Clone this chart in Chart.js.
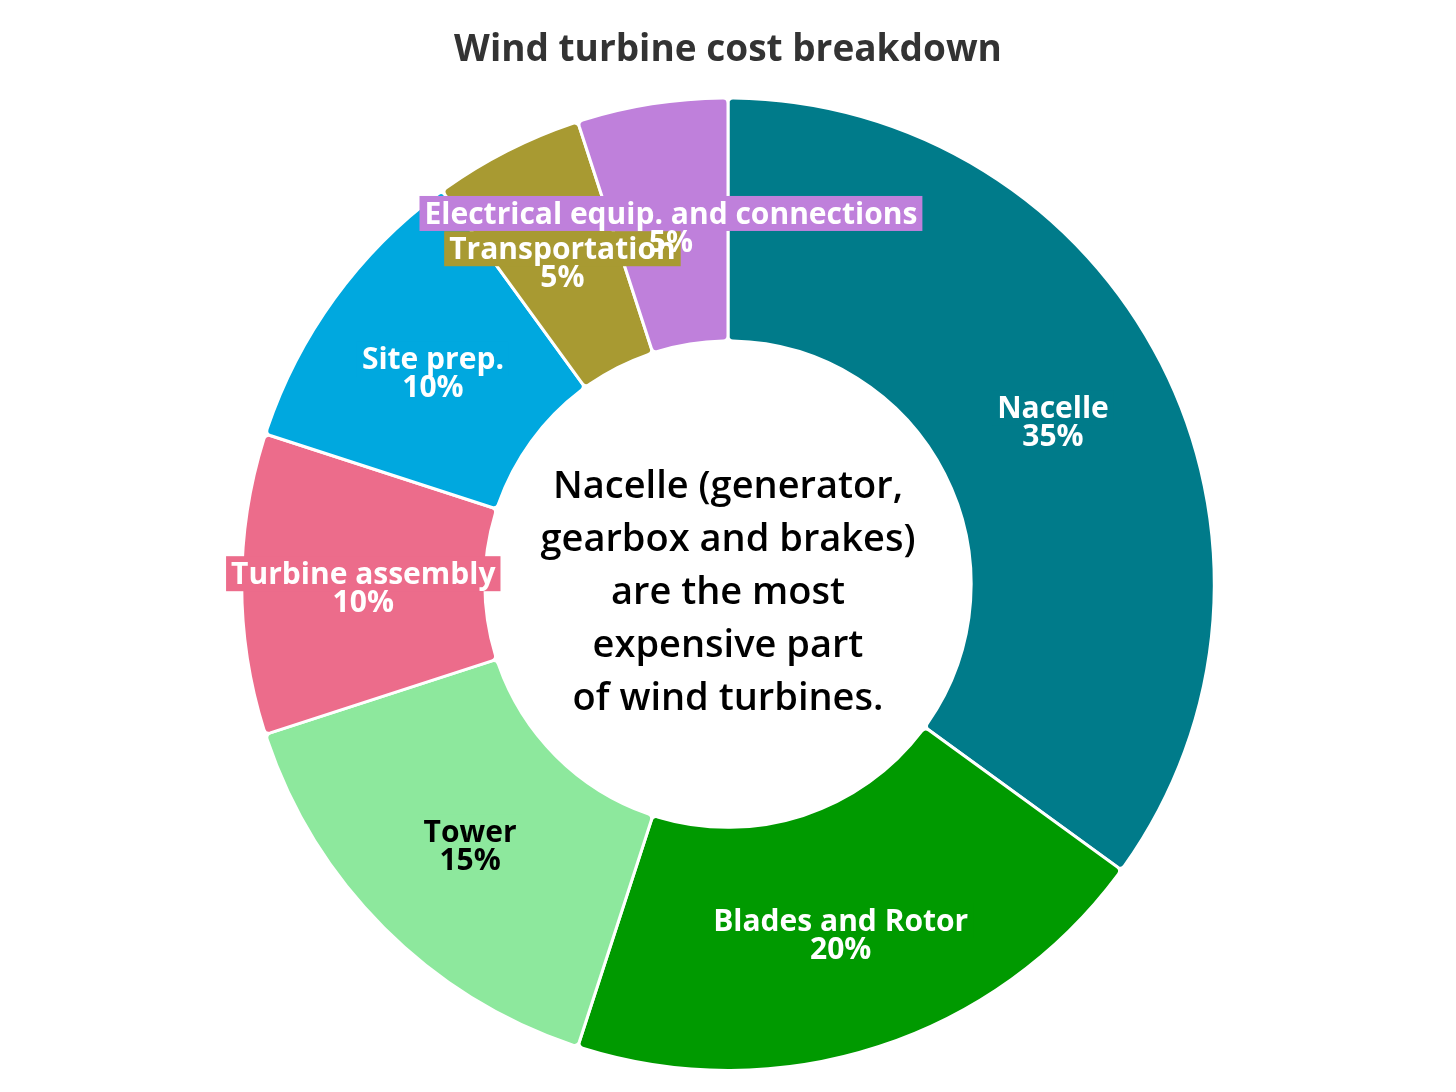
<!DOCTYPE html>
<html>
<head>
<meta charset="utf-8">
<script src="https://cdn.jsdelivr.net/npm/chart.js@4"></script>
<style>
  html, body { margin: 0; padding: 0; background: #fff; }
  #wrap { width: 1456px; height: 1092px; position: relative; }
</style>
</head>
<body>
<div id="wrap"><canvas id="costChart"></canvas></div>
<script>
const categories = ['Nacelle', 'Blades and Rotor', 'Tower', 'Turbine assembly', 'Site prep.', 'Transportation', 'Electrical equip. and connections'];
const shares = [35, 20, 15, 10, 10, 5, 5];
const colors = ['#007b8a', '#009a00', '#8de89d', '#ec6c8b', '#00a8df', '#a89a32', '#bf80db'];
const labelColors = ['#fff', '#fff', '#000', '#fff', '#fff', '#fff', '#fff'];
const centerLines = ['Nacelle (generator,', 'gearbox and brakes)', 'are the most', 'expensive part', 'of wind turbines.'];

const labelFont = 'bold 30px "Open Sans", sans-serif';

// labels drawn at the middle of each ring segment
const sliceLabels = {
  id: 'sliceLabels',
  afterDatasetsDraw(chart) {
    const ctx = chart.ctx;
    const arcs = chart.getDatasetMeta(0).data;
    const spots = arcs.map((arc, i) => {
      const p = arc.getProps(['x', 'y', 'startAngle', 'endAngle', 'innerRadius', 'outerRadius'], true);
      const a = (p.startAngle + p.endAngle) / 2;
      const r = (p.innerRadius + p.outerRadius) / 2;
      return { x: p.x + Math.cos(a) * r, y: p.y + Math.sin(a) * r + 5, i };
    });
    ctx.save();
    ctx.font = labelFont;
    ctx.textAlign = 'center';
    ctx.textBaseline = 'middle';
    const lh = 28;
    // boxes behind the names, last ones first
    for (let k = spots.length - 1; k >= 0; k--) {
      const s = spots[k];
      const w = ctx.measureText(categories[s.i]).width;
      ctx.fillStyle = colors[s.i];
      ctx.fillRect(s.x - w / 2 - 5, s.y - lh / 2 - 19, w + 10, 35);
    }
    spots.forEach(s => {
      ctx.fillStyle = labelColors[s.i];
      ctx.fillText(categories[s.i], s.x, s.y - lh / 2);
      ctx.fillText(shares[s.i] + '%', s.x, s.y + lh / 2);
    });
    ctx.restore();
  }
};

const centerText = {
  id: 'centerText',
  afterDraw(chart) {
    const ctx = chart.ctx;
    const arc = chart.getDatasetMeta(0).data[0];
    ctx.save();
    ctx.font = '600 38px "Open Sans", sans-serif';
    ctx.fillStyle = '#000';
    ctx.textAlign = 'center';
    ctx.textBaseline = 'middle';
    const step = 53;
    const y0 = arc.y + 9 - step * (centerLines.length - 1) / 2;
    centerLines.forEach((t, i) => ctx.fillText(t, arc.x, y0 + i * step));
    ctx.restore();
  }
};

new Chart(document.getElementById('costChart'), {
  type: 'doughnut',
  data: {
    labels: categories,
    datasets: [{
      data: shares,
      backgroundColor: colors,
      borderColor: '#fff',
      borderWidth: 3,
      borderRadius: 5
    }]
  },
  options: {
    responsive: true,
    maintainAspectRatio: false,
    animation: false,
    cutout: '50%',
    layout: { padding: { top: 0, bottom: 20 } },
    plugins: {
      legend: { display: false },
      tooltip: { enabled: false },
      title: {
        display: true,
        text: 'Wind turbine cost breakdown',
        color: '#333',
        font: { family: '"Open Sans", sans-serif', size: 37, weight: 'bold', lineHeight: 1.2 },
        padding: { top: 28, bottom: 24 }
      }
    }
  },
  plugins: [sliceLabels, centerText]
});
</script>
</body>
</html>
